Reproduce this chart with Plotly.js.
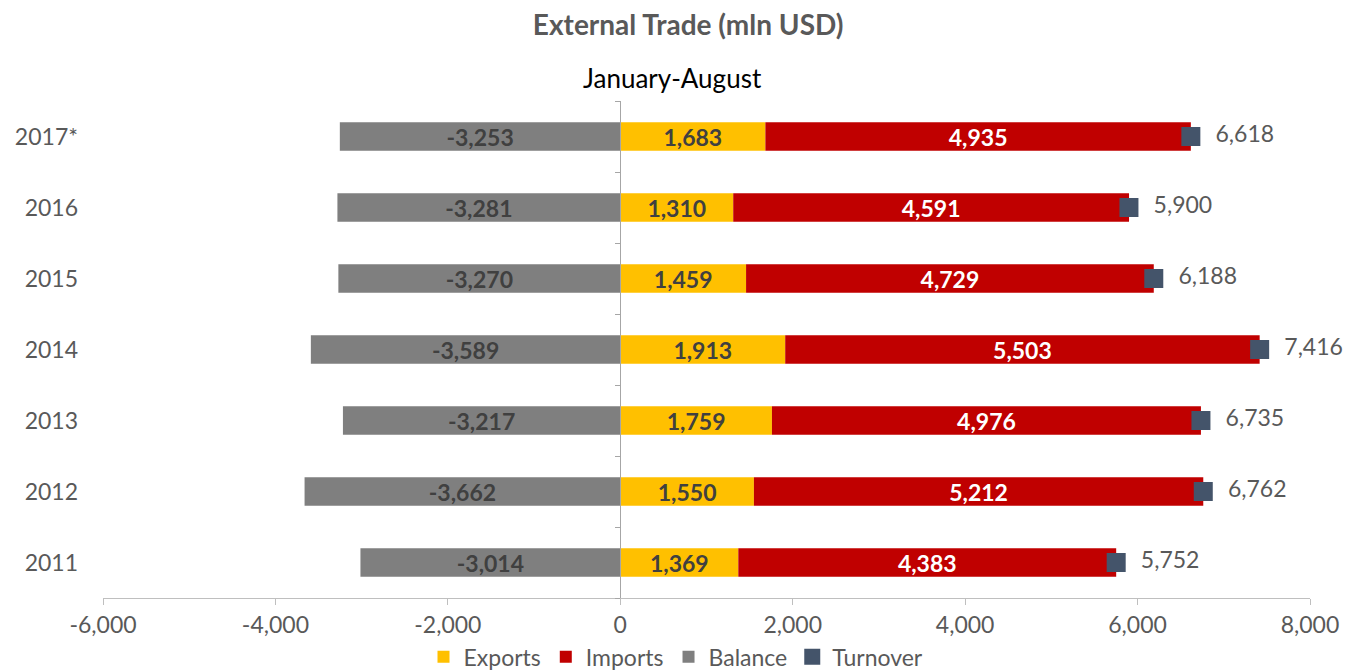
<!DOCTYPE html>
<html lang="en">
  <head>
    <meta charset="UTF-8" />
    <script src="https://cdn.plot.ly/plotly-3.0.1.min.js"></script>
    <title>External Trade</title>
    <style>
      body { margin: 0; background: #fff; }
    </style>
  </head>
  <body>
    <div id="chart" style="width: 1352px; height: 671px;"></div>
    <script>
      // data, January-August, mln USD
      const years = ['2011', '2012', '2013', '2014', '2015', '2016', '2017*'];
      const exportsVals = [1369, 1550, 1759, 1913, 1459, 1310, 1683];
      const importsVals = [4383, 5212, 4976, 5503, 4729, 4591, 4935];
      const balanceVals = [-3014, -3662, -3217, -3589, -3270, -3281, -3253];
      const turnoverVals = [5752, 6762, 6735, 7416, 6188, 5900, 6618];
      const xTicks = [-6000, -4000, -2000, 0, 2000, 4000, 6000, 8000];

      const FONT = 'Lato, "Open Sans", sans-serif';
      const fmt = v => v.toLocaleString('en-US');  // keeps plain hyphen for negatives

      // stacked bars (relative mode puts balance on the left of zero)
      const exportsTrace = {
        type: 'bar', orientation: 'h', name: 'Exports',
        x: exportsVals, y: years,
        marker: { color: '#FFC000' },
        text: exportsVals.map(fmt), textposition: 'inside', insidetextanchor: 'middle',
        constraintext: 'none',
        textfont: { family: FONT, size: 23, color: '#404040', weight: 'bold' },
        hoverinfo: 'x+name'
      };
      const importsTrace = {
        type: 'bar', orientation: 'h', name: 'Imports',
        x: importsVals, y: years,
        marker: { color: '#C00000' },
        text: importsVals.map(fmt), textposition: 'inside', insidetextanchor: 'middle',
        constraintext: 'none',
        textfont: { family: FONT, size: 23, color: '#FFFFFF', weight: 'bold' },
        hoverinfo: 'x+name'
      };
      const balanceTrace = {
        type: 'bar', orientation: 'h', name: 'Balance',
        x: balanceVals, y: years,
        marker: { color: '#7F7F7F' },
        text: balanceVals.map(fmt), textposition: 'inside', insidetextanchor: 'middle',
        constraintext: 'none',
        textfont: { family: FONT, size: 23, color: '#404040', weight: 'bold' },
        hoverinfo: 'x+name'
      };
      const turnoverTrace = {
        type: 'scatter', mode: 'markers+text', name: 'Turnover',
        x: turnoverVals, y: years,
        marker: { symbol: 'square', size: 19, color: '#44546A' },
        text: turnoverVals.map(v => '  ' + fmt(v)),
        textposition: 'middle right',
        textfont: { family: FONT, size: 23, color: '#595959' },
        cliponaxis: false,
        hoverinfo: 'x+name'
      };
      // empty trace so the zero-line axis (y2) gets drawn
      const zeroAxisTrace = {
        type: 'scatter', x: [null], y: [null], yaxis: 'y2',
        showlegend: false, hoverinfo: 'skip'
      };

      const layout = {
        width: 1352, height: 671,
        margin: { l: 103, r: 42, t: 101, b: 73, autoexpand: false },
        paper_bgcolor: '#fff', plot_bgcolor: '#fff',
        font: { family: FONT, color: '#595959' },
        title: {
          text: '<b>External Trade (mln USD)</b>',
          font: { family: FONT, size: 28, color: '#595959' },
          x: 0.509, xref: 'container', y: 0.963, yanchor: 'middle'
        },
        barmode: 'relative',
        bargap: 0.6,
        showlegend: true,
        legend: {
          orientation: 'h', x: 0.5, xanchor: 'center', xref: 'container',
          y: 0.021, yanchor: 'middle', yref: 'container',
          bgcolor: 'rgba(0,0,0,0)',
          font: { family: FONT, size: 23, color: '#595959' },
          traceorder: 'normal', itemwidth: 30
        },
        xaxis: {
          range: [-6000, 8000],
          tickvals: xTicks, ticktext: xTicks.map(fmt),
          ticks: 'outside', ticklen: 6, tickcolor: '#BFBFBF',
          showline: true, linecolor: '#BFBFBF', linewidth: 1,
          showgrid: false, zeroline: false,
          tickfont: { family: FONT, size: 23, color: '#595959' }
        },
        yaxis: {
          type: 'category', range: [-0.5, 6.5],
          showgrid: false, zeroline: false, showline: false, ticks: '',
          ticklabelstandoff: 24,
          tickfont: { family: FONT, size: 23, color: '#595959' }
        },
        // vertical axis line at zero with category boundary ticks
        yaxis2: {
          overlaying: 'y', anchor: 'free', position: 6000 / 14000,
          range: [-0.5, 6.5],
          tickvals: [-0.5, 0.5, 1.5, 2.5, 3.5, 4.5, 5.5, 6.5],
          ticks: 'outside', ticklen: 5, tickcolor: '#A6A6A6',
          showticklabels: false, showgrid: false, zeroline: false,
          showline: true, linecolor: '#A6A6A6', linewidth: 1
        },
        annotations: [{
          text: 'January-August', xref: 'paper', yref: 'paper',
          x: 0.472, y: 1.046, xanchor: 'center', yanchor: 'middle',
          showarrow: false, font: { family: FONT, size: 26, color: '#000000' }
        }]
      };

      Plotly.newPlot('chart', [exportsTrace, importsTrace, balanceTrace, turnoverTrace, zeroAxisTrace], layout, { displayModeBar: false });
    </script>
  </body>
</html>
